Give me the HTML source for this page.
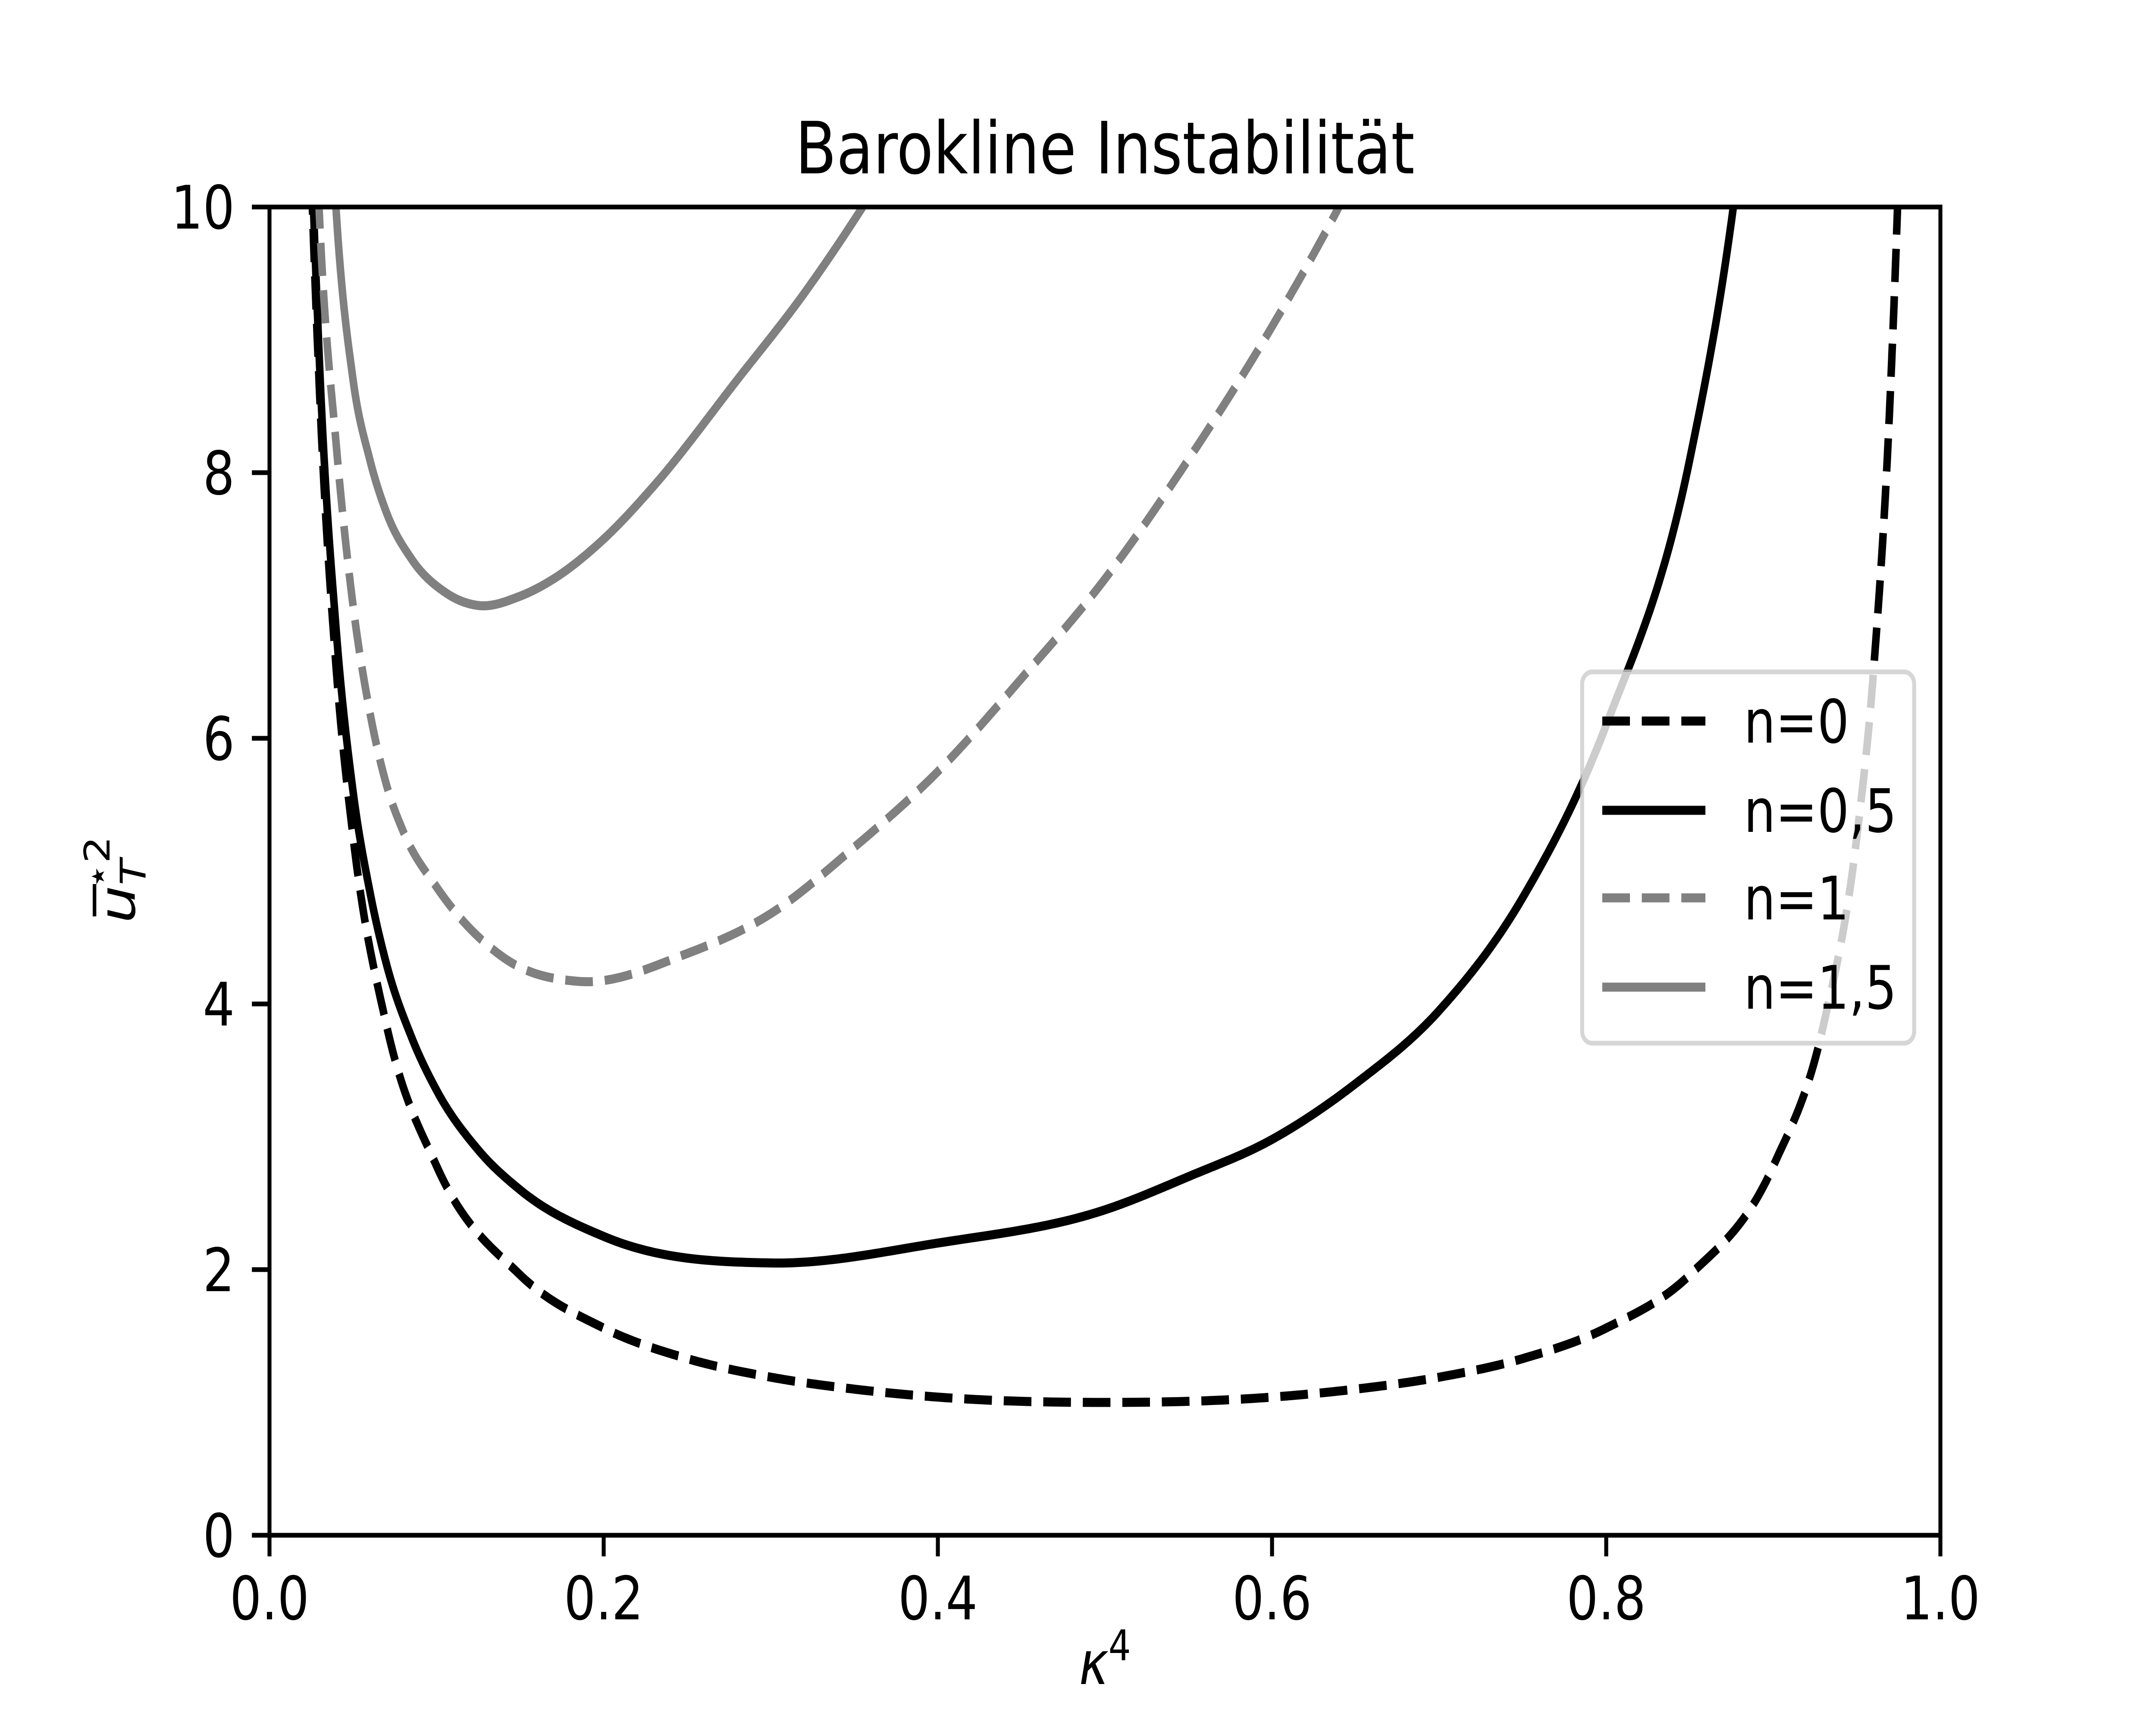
<!DOCTYPE html>
<html><head><meta charset="utf-8"><style>
html,body{margin:0;padding:0;background:#fff;overflow:hidden;width:100%;height:100%;}
svg{display:block;width:100vw;height:100vh;font-family:"DejaVu Sans","Liberation Sans",sans-serif;}
</style></head><body>
<svg id="chart" viewBox="0 0 6000 4000" preserveAspectRatio="none" xmlns="http://www.w3.org/2000/svg">
<rect width="6000" height="4000" fill="#fff"/>
<defs><clipPath id="clip"><rect x="750" y="480" width="4650" height="3080"/></clipPath></defs>
<g id="series" clip-path="url(#clip)"></g>
<g id="axes"></g>
<text x="3075" y="402" font-size="167" text-anchor="middle">Barokline Instabilität</text>
<text x="3075" y="3905" font-size="139" text-anchor="middle" font-style="italic">κ<tspan dy="-55" font-size="98" font-style="normal">4</tspan></text>
<g transform="translate(375,2040) rotate(-90)">
<text x="0" y="0" font-size="139" font-style="italic" text-anchor="middle">u<tspan dy="30" font-size="98">T</tspan><tspan dx="-70" dy="-100" font-size="98" font-style="normal">⋆2</tspan></text>
<line x1="-85" y1="-112" x2="-10" y2="-112" stroke="#000" stroke-width="10"/>
</g>
<g id="legend">
<rect x="4403" y="1558" width="924" height="861" rx="28" fill="rgba(255,255,255,0.8)" stroke="#cccccc" stroke-opacity="0.8" stroke-width="11"/>
</g>
</svg>
<script>
const categories = ["n=0","n=0,5","n=1","n=1,5"];
const x0 = [0.022,0.025,0.03,0.04,0.05,0.07,0.1,0.15,0.2,0.25,0.3,0.35,0.4,0.5,0.6,0.65,0.7,0.75,0.8,0.85,0.9,0.93,0.95,0.96,0.97,0.975,0.978];
const y0 = [11.62,10.26,8.59,6.51,5.26,3.84,2.78,1.96,1.56,1.33,1.19,1.10,1.04,1.0,1.04,1.10,1.19,1.33,1.56,1.96,2.78,3.84,5.26,6.51,8.59,10.26,11.62];
const x05 = [0.022,0.025,0.03,0.04,0.05,0.06,0.07,0.085,0.1,0.125,0.15,0.2,0.3,0.4,0.5,0.55,0.6,0.65,0.7,0.75,0.8,0.85,0.875,0.885];
const y05 = [11.8,10.5,8.8,6.8,5.6,4.85,4.3,3.75,3.35,2.9,2.6,2.25,2.05,2.2,2.45,2.7,2.98,3.4,3.95,4.8,6.1,8.1,9.9,10.9];
const x1 = [0.027,0.03,0.04,0.05,0.06,0.07,0.08,0.1,0.14,0.185,0.25,0.3,0.35,0.4,0.45,0.5,0.55,0.6,0.64,0.66];
const y1 = [10.8,9.9,8.2,7.0,6.2,5.65,5.3,4.88,4.35,4.17,4.38,4.68,5.18,5.75,6.45,7.2,8.1,9.1,10.0,10.5];
const x15 = [0.037,0.04,0.05,0.06,0.07,0.085,0.105,0.125,0.15,0.17,0.2,0.23,0.28,0.32,0.355,0.37];
const y15 = [10.6,9.95,8.7,8.1,7.7,7.35,7.1,7.0,7.07,7.2,7.5,7.9,8.7,9.35,10.0,10.3];
const xTicks = [0,0.2,0.4,0.6,0.8,1.0];
const xTickLabels = ["0.0","0.2","0.4","0.6","0.8","1.0"];
const yTicks = [0,2,4,6,8,10];
const yTickLabels = ["0","2","4","6","8","10"];

const NS="http://www.w3.org/2000/svg";
const L=750,R=5400,T=480,B=3560;
function sx(v){return L+(R-L)*v/1.0;}
function sy(v){return B-(B-T)*v/10;}
function path(xs,ys){
  const n=xs.length,m=[];
  for(let i=0;i<n;i++){
    if(i==0)m.push((ys[1]-ys[0])/(xs[1]-xs[0]));
    else if(i==n-1)m.push((ys[n-1]-ys[n-2])/(xs[n-1]-xs[n-2]));
    else{const h0=xs[i]-xs[i-1],h1=xs[i+1]-xs[i];const d0=(ys[i]-ys[i-1])/h0,d1=(ys[i+1]-ys[i])/h1;m.push((d1*h0+d0*h1)/(h0+h1));}
  }
  let d="";
  for(let i=0;i<n-1;i++){
    const h=xs[i+1]-xs[i];
    for(let k=0;k<=40;k++){
      if(i>0&&k==0)continue;
      const t=k/40,t2=t*t,t3=t2*t;
      const y=(2*t3-3*t2+1)*ys[i]+(t3-2*t2+t)*h*m[i]+(-2*t3+3*t2)*ys[i+1]+(t3-t2)*h*m[i+1];
      const x=xs[i]+t*h;
      d+=(d?" L":"M")+sx(x).toFixed(1)+","+sy(y).toFixed(1);
    }
  }
  return d;
}
const sg=document.getElementById('series');
const specs=[[x0,y0,"#000",true],[x05,y05,"#000",false],[x1,y1,"#808080",true],[x15,y15,"#808080",false]];
const names=['line-n0','line-n05','line-n1','line-n15'];
specs.forEach((s,i)=>{
  const el=document.createElementNS(NS,'path');
  el.setAttribute('d',path(s[0],s[1]));
  el.setAttribute('fill','none');el.setAttribute('stroke',s[2]);el.setAttribute('stroke-width','21');
  el.setAttribute('stroke-linejoin','round');
  if(s[3])el.setAttribute('stroke-dasharray','77 33');
  
  
  sg.appendChild(el);
});
const ax=document.getElementById('axes');
const fr=document.createElementNS(NS,'rect');
fr.setAttribute('x',L);fr.setAttribute('y',T);fr.setAttribute('width',R-L);fr.setAttribute('height',B-T);
fr.setAttribute('fill','none');fr.setAttribute('stroke','#000');fr.setAttribute('stroke-width','11');


ax.appendChild(fr);
xTicks.forEach((v,i)=>{
  const t=document.createElementNS(NS,'line');
  t.setAttribute('x1',sx(v));t.setAttribute('x2',sx(v));t.setAttribute('y1',B);t.setAttribute('y2',B+49);
  t.setAttribute('stroke','#000');t.setAttribute('stroke-width','11');
  
  
  ax.appendChild(t);
  const tx=document.createElementNS(NS,'text');
  tx.setAttribute('x',sx(v));tx.setAttribute('y',B+195);tx.setAttribute('font-size','139');tx.setAttribute('text-anchor','middle');
  tx.textContent=xTickLabels[i];
  
  
  ax.appendChild(tx);
});
yTicks.forEach((v,i)=>{
  const t=document.createElementNS(NS,'line');
  t.setAttribute('y1',sy(v));t.setAttribute('y2',sy(v));t.setAttribute('x1',L);t.setAttribute('x2',L-49);
  t.setAttribute('stroke','#000');t.setAttribute('stroke-width','11');
  
  
  ax.appendChild(t);
  const tx=document.createElementNS(NS,'text');
  tx.setAttribute('x',L-97);tx.setAttribute('y',sy(v)+50);tx.setAttribute('font-size','139');tx.setAttribute('text-anchor','end');
  tx.textContent=yTickLabels[i];
  
  
  ax.appendChild(tx);
});
const lg=document.getElementById('legend');
const ly=[1672,1879,2082,2289];
specs.forEach((s,i)=>{
  const l=document.createElementNS(NS,'line');
  l.setAttribute('x1',4459);l.setAttribute('x2',4746);l.setAttribute('y1',ly[i]);l.setAttribute('y2',ly[i]);
  l.setAttribute('stroke',s[2]);l.setAttribute('stroke-width','21');
  if(s[3])l.setAttribute('stroke-dasharray','77 33');
  
  
  lg.appendChild(l);
  const tx=document.createElementNS(NS,'text');
  tx.setAttribute('x',4853);tx.setAttribute('y',ly[i]+50);tx.setAttribute('font-size','139');
  tx.textContent=categories[i];
  
  
  lg.appendChild(tx);
});
</script>
</body></html>
